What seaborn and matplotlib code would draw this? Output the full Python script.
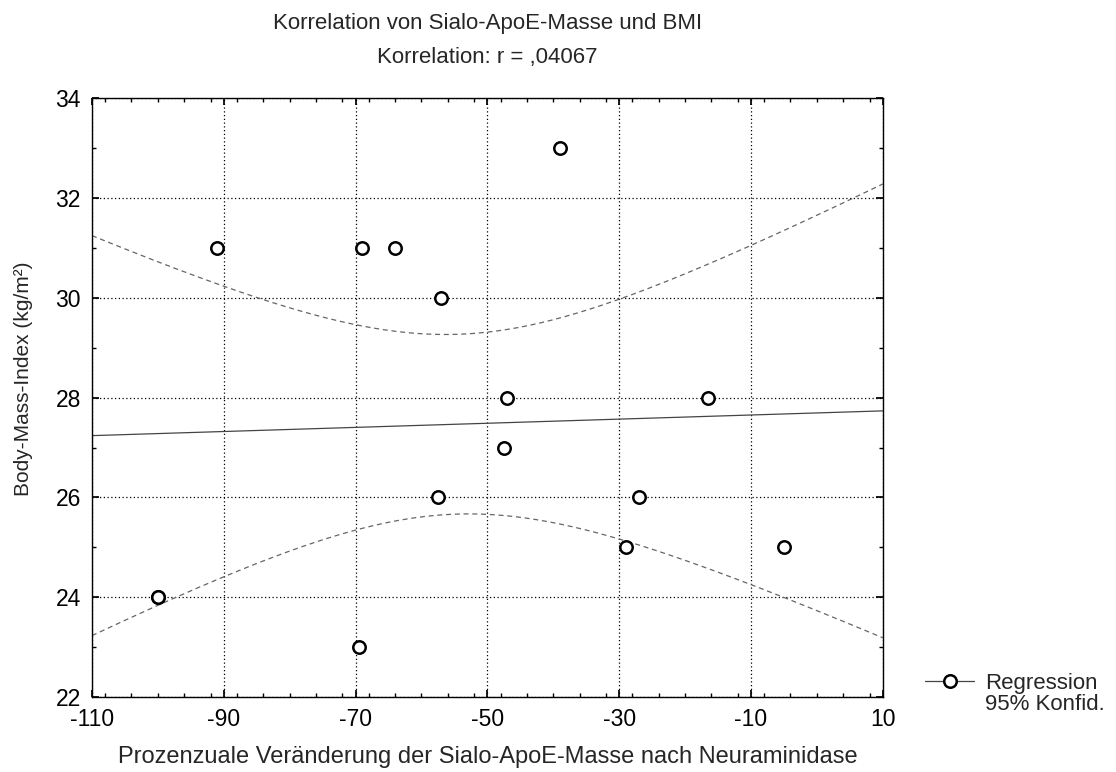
import numpy as np
import pandas as pd
import matplotlib
matplotlib.use("Agg")
import matplotlib.pyplot as plt
import seaborn as sns
from matplotlib.lines import Line2D
from matplotlib.ticker import MultipleLocator

# Daten
veraenderung = [-100, -100, -91, -69, -64, -57, -69.5, -39, -47, -16.5, -47.5, -57.5, -27, -29, -5]
bmi = [24, 24, 31, 31, 31, 30, 23, 33, 28, 28, 27, 26, 26, 25, 25]
x_ticks = [-110, -90, -70, -50, -30, -10, 10]
y_ticks = [22, 24, 26, 28, 30, 32, 34]

df = pd.DataFrame({"x": veraenderung, "y": bmi})

# lineare Regression + 95%-Konfidenzband
n = len(df)
slope, intercept = np.polyfit(df["x"], df["y"], 1)
xs = np.linspace(-110, 10, 200)
fit = intercept + slope * xs
resid = df["y"] - (intercept + slope * df["x"])
s = np.sqrt((resid ** 2).sum() / (n - 2))
t_val = 2.16  # t(0.975, df=13)
sxx = ((df["x"] - df["x"].mean()) ** 2).sum()
half = t_val * s * np.sqrt(1 / n + (xs - df["x"].mean()) ** 2 / sxx)
band = pd.DataFrame({"x": xs, "fit": fit, "lo": fit - half, "hi": fit + half})

sns.set_theme(style="ticks")
plt.rcParams["font.family"] = ["Liberation Sans", "DejaVu Sans"]
plt.rcParams["axes.unicode_minus"] = False

fig = plt.figure(figsize=(11.16, 7.72), dpi=100)
ax = fig.add_axes([0.0824, 0.097, 0.7086, 0.776])

sns.lineplot(data=band, x="x", y="fit", ax=ax, color="#444444", lw=0.9)
sns.lineplot(data=band, x="x", y="lo", ax=ax, color="#666666", lw=0.9, linestyle=(0, (4, 3)))
sns.lineplot(data=band, x="x", y="hi", ax=ax, color="#666666", lw=0.9, linestyle=(0, (4, 3)))
sns.scatterplot(data=df, x="x", y="y", ax=ax, marker="o", s=80,
                facecolor="white", edgecolor="black", linewidth=1.8, zorder=5)

ax.set_xlim(-110, 10)
ax.set_ylim(22, 34)
ax.set_xticks(x_ticks)
ax.set_yticks(y_ticks)
ax.xaxis.set_minor_locator(MultipleLocator(4))
ax.yaxis.set_minor_locator(MultipleLocator(1))
ax.tick_params(axis="both", which="both", direction="in", top=True, right=True,
               labelsize=16.5, colors="black", pad=8)
ax.tick_params(which="major", length=5)
ax.tick_params(which="minor", length=3)
ax.grid(True, which="major", linestyle=(0, (1, 2)), color="black", lw=0.9)
for sp in ax.spines.values():
    sp.set_color("black")
    sp.set_linewidth(1.0)

ax.set_xlabel("Prozenzuale Veränderung der Sialo-ApoE-Masse nach Neuraminidase", fontsize=17)
ax.xaxis.set_label_coords(0.5, -0.082)
ax.set_ylabel("Body-Mass-Index (kg/m²)", fontsize=15)
ax.yaxis.set_label_coords(-0.074, 0.532)

fig.text(0.437, 0.97, "Korrelation von Sialo-ApoE-Masse und BMI", ha="center", va="center", fontsize=16)
fig.text(0.437, 0.926, "Korrelation: r = ,04067", ha="center", va="center", fontsize=16)

handle = Line2D([0], [0], color="#444444", lw=0.9, marker="o", markersize=9,
                markerfacecolor="white", markeredgecolor="black", markeredgewidth=1.8)
blank = Line2D([0], [0], lw=0)
fig.legend([handle, blank], ["Regression", "95% Konfid."], loc="center left",
           bbox_to_anchor=(0.829, 0.101), frameon=False, fontsize=16,
           handlelength=2.2, handletextpad=0.5, labelspacing=0.0,
           borderpad=0, borderaxespad=0)

fig.savefig("out.png", dpi=100)
